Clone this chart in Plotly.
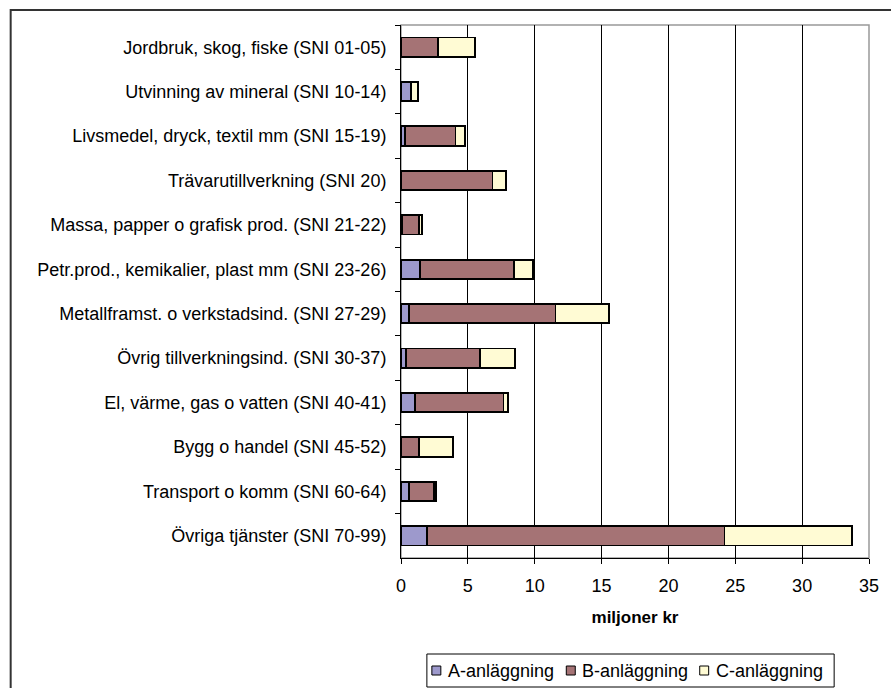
import plotly.graph_objects as go

categories = [
    "Jordbruk, skog, fiske (SNI 01-05)",
    "Utvinning av mineral (SNI 10-14)",
    "Livsmedel, dryck, textil mm (SNI 15-19)",
    "Trävarutillverkning (SNI 20)",
    "Massa, papper o grafisk prod. (SNI 21-22)",
    "Petr.prod., kemikalier, plast mm (SNI 23-26)",
    "Metallframst. o verkstadsind. (SNI 27-29)",
    "Övrig tillverkningsind. (SNI 30-37)",
    "El, värme, gas o vatten (SNI 40-41)",
    "Bygg o handel (SNI 45-52)",
    "Transport o komm (SNI 60-64)",
    "Övriga tjänster (SNI 70-99)",
]
a_anl = [0.0, 0.72, 0.30, 0.0, 0.10, 1.42, 0.60, 0.35, 1.04, 0.0, 0.60, 1.94]
b_anl = [2.74, 0.02, 3.78, 6.84, 1.27, 7.03, 10.96, 5.54, 6.62, 1.37, 1.89, 22.26]
c_anl = [2.80, 0.55, 0.69, 1.04, 0.23, 1.42, 4.02, 2.64, 0.32, 2.51, 0.15, 9.53]

series_names = ["A-anläggning", "B-anläggning", "C-anläggning"]
colors = ["#9D99CC", "#A57375", "#FFFBD4"]

FONT = "Liberation Sans, Arial, sans-serif"
W, H = 891, 688
L, R, T, B = 401, 871, 25, 558
pw, ph = R - L, B - T

def px(x):
    return (x - L) / pw

def py(y):
    return (B - y) / ph

fig = go.Figure()
for name, vals, col in zip(series_names, [a_anl, b_anl, c_anl], colors):
    fig.add_trace(go.Bar(
        y=categories, x=vals, name=name, orientation="h",
        marker=dict(color=col, line=dict(color="#000000", width=1.8)),
        showlegend=False,
    ))

shapes = [
    dict(type="rect", xref="paper", yref="paper",
         x0=px(L), x1=px(R), y0=0, y1=1,
         line=dict(color="#999999", width=1.5), layer="below"),
    dict(type="rect", xref="paper", yref="paper",
         x0=px(9), x1=px(905), y0=py(10), y1=py(705),
         line=dict(color="#333333", width=2)),
    dict(type="rect", xref="paper", yref="paper",
         x0=px(427), x1=px(836), y0=py(654), y1=py(687),
         line=dict(color="#000000", width=1), fillcolor="white"),
]
annotations = []
leg_x = [432, 567, 701]
for name, col, lx in zip(series_names, colors, leg_x):
    shapes.append(dict(type="rect", xref="paper", yref="paper",
                       x0=px(lx), x1=px(lx + 9), y0=py(666), y1=py(675),
                       line=dict(color="#000000", width=1), fillcolor=col))
    annotations.append(dict(xref="paper", yref="paper", x=px(lx + 14), y=py(670.5),
                            xanchor="left", yanchor="middle", showarrow=False,
                            text=name, font=dict(size=18, family=FONT, color="#000000")))

fig.update_layout(
    width=W, height=H,
    barmode="stack", bargap=0.565,
    paper_bgcolor="white", plot_bgcolor="white",
    margin=dict(l=L, r=W - R, t=T, b=H - B, pad=0),
    font=dict(family=FONT, size=18, color="#000000"),
    xaxis=dict(
        range=[0, 35], dtick=5, tick0=0,
        showgrid=True, gridcolor="#000000", gridwidth=1,
        showline=True, linecolor="#000000", linewidth=1,
        ticks="outside", ticklen=5, tickcolor="#000000",
        tickfont=dict(size=18),
        ticklabelstandoff=6,
        title=dict(text="<b>miljoner kr</b>", font=dict(size=17), standoff=16),
        zeroline=False,
    ),
    yaxis=dict(
        categoryorder="array", categoryarray=categories,
        autorange="reversed",
        showline=True, linecolor="#000000", linewidth=1,
        ticks="outside", ticklen=5, tickcolor="#000000",
        tickson="boundaries",
        tickfont=dict(size=18),
        ticklabelstandoff=10,
        showgrid=False, zeroline=False,
    ),
    showlegend=False,
    shapes=shapes,
    annotations=annotations,
)

fig.write_html("out.html", config={"displayModeBar": False, "staticPlot": True})

with open("out.html", "r", encoding="utf-8") as f:
    html = f.read()
html = html.replace("<head>", "<head><style>html,body{margin:0;padding:0;overflow:hidden;}</style>", 1)
with open("out.html", "w", encoding="utf-8") as f:
    f.write(html)
